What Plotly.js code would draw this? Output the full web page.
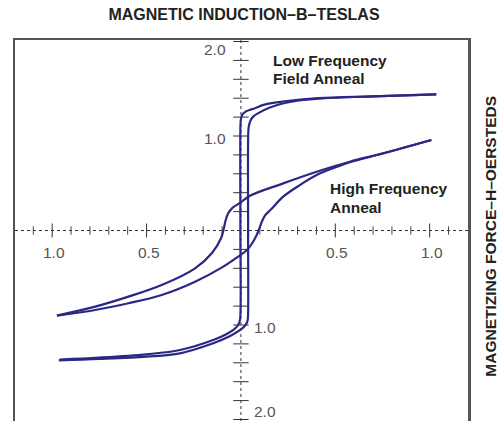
<!DOCTYPE html>
<html>
<head>
<meta charset="utf-8">
<script src="https://cdn.plot.ly/plotly-3.0.1.min.js"></script>
<style>html,body{margin:0;padding:0;background:#fff;}#chart{width:499px;height:421px;}</style>
</head>
<body>
<div id="chart"></div>
<script>
// Low frequency field anneal loop (square loop)
const lfDescH = [1.035, 0.70, 0.41, 0.22, 0.12, 0.074, 0.045, 0.025, 0.011, 0.003, -0.001, -0.003, -0.003, -0.004, -0.009, -0.02, -0.04, -0.08, -0.147, -0.323, -0.50, -0.75, -0.96];
const lfDescB = [1.44, 1.42, 1.40, 1.363, 1.33, 1.294, 1.276, 1.258, 1.235, 1.205, 1.165, 1.07, 0.0, -0.93, -0.975, -1.015, -1.052, -1.10, -1.159, -1.265, -1.31, -1.345, -1.365];
const lfAscH = [-0.965, -0.75, -0.50, -0.323, -0.147, -0.06, -0.01, 0.018, 0.031, 0.036, 0.038, 0.038, 0.039, 0.042, 0.05, 0.065, 0.09, 0.15, 0.275, 0.41, 0.70, 1.035];
const lfAscB = [-1.375, -1.36, -1.335, -1.30, -1.194, -1.12, -1.06, -1.015, -0.98, -0.945, -0.88, 0.0, 1.04, 1.105, 1.16, 1.205, 1.24, 1.30, 1.365, 1.395, 1.42, 1.44];

// High frequency anneal loop (sheared loop)
const hfDescH = [1.009, 0.753, 0.577, 0.401, 0.224, 0.048, -0.005, -0.045, -0.068, -0.082, -0.092, -0.105, -0.152, -0.243, -0.42, -0.596, -0.772, -0.975];
const hfDescB = [0.958, 0.817, 0.728, 0.622, 0.499, 0.368, 0.292, 0.24, 0.18, 0.10, 0.01, -0.08, -0.235, -0.40, -0.577, -0.70, -0.806, -0.90];
const hfAscH = [-0.975, -0.772, -0.596, -0.42, -0.243, -0.10, -0.032, 0.03, 0.07, 0.094, 0.11, 0.128, 0.16, 0.224, 0.312, 0.401, 0.488, 0.577, 0.753, 1.009];
const hfAscB = [-0.90, -0.841, -0.77, -0.683, -0.542, -0.39, -0.30, -0.21, -0.10, 0.0, 0.09, 0.16, 0.225, 0.358, 0.481, 0.587, 0.658, 0.722, 0.815, 0.958];

// Axis ticks and labels
const xTicksMinor = [-1.1, -0.9, -0.8, -0.7, -0.6, -0.4, -0.3, -0.2, -0.1, 0.1, 0.2, 0.3, 0.4, 0.6, 0.7, 0.8, 0.9, 1.1];
const xTicksMajor = [-1.0, -0.5, 0.5, 1.0];
const xTickLabels = ["1.0", "0.5", "0.5", "1.0"];
const yTicks = [-2.0, -1.8, -1.6, -1.4, -1.2, -1.0, -0.8, -0.6, -0.4, -0.2, 0.2, 0.4, 0.6, 0.8, 1.0, 1.2, 1.4, 1.6, 1.8, 2.0];
const yLabelValsUpper = [2.0, 1.0];
const yLabelValsLower = [-1.0, -2.0];
const yLabelTextUpper = ["2.0", "1.0"];
const yLabelTextLower = ["1.0", "2.0"];

const xRange = [-1.197, 1.203];
const yRange = [-2.016, 2.016];

const curveColor = '#2b2884';
const axisColor = '#333';

const traces = [
  {x: xRange, y: [0, 0], mode: 'lines', line: {color: axisColor, width: 1, dash: 'dot'}},
  {x: [0, 0], y: yRange, mode: 'lines', line: {color: axisColor, width: 1, dash: 'dot'}},
  {x: xTicksMinor, y: xTicksMinor.map(() => 0), mode: 'markers',
   marker: {symbol: 'line-ns-open', size: 6, color: '#444', line: {color: '#444', width: 1}}},
  {x: xTicksMajor, y: xTicksMajor.map(() => 0), mode: 'markers',
   marker: {symbol: 'line-ns-open', size: 10, color: '#333', line: {color: '#333', width: 1}}},
  {x: yTicks.map(() => 0), y: yTicks, mode: 'markers',
   marker: {symbol: 'line-ew-open', size: 11, color: '#333', line: {color: '#333', width: 1}}},
  {x: lfDescH, y: lfDescB, mode: 'lines', line: {color: curveColor, width: 2.2, shape: 'spline', smoothing: 1}},
  {x: lfAscH, y: lfAscB, mode: 'lines', line: {color: curveColor, width: 2.2, shape: 'spline', smoothing: 1}},
  {x: hfDescH, y: hfDescB, mode: 'lines', line: {color: curveColor, width: 2.2, shape: 'spline', smoothing: 1}},
  {x: hfAscH, y: hfAscB, mode: 'lines', line: {color: curveColor, width: 2.2, shape: 'spline', smoothing: 1}}
];

const tickFont = {family: 'Liberation Sans, Arial, sans-serif', size: 15.5, color: '#555'};
const boldFont = {family: 'Liberation Sans, Arial, sans-serif', size: 15.5, color: '#222', weight: 'bold'};
const titleFont = {family: 'Liberation Sans, Arial, sans-serif', size: 16, color: '#222', weight: 'bold'};

const annotations = [];
xTicksMajor.forEach((v, i) => annotations.push({
  x: v, y: 0, xref: 'x', yref: 'y', text: xTickLabels[i], showarrow: false,
  xanchor: 'center', yanchor: 'middle', xshift: 2, yshift: -22, font: tickFont
}));
yLabelValsUpper.forEach((v, i) => annotations.push({
  x: 0, y: v, xref: 'x', yref: 'y', text: yLabelTextUpper[i], showarrow: false,
  xanchor: 'right', yanchor: 'middle', xshift: -13, yshift: i === 0 ? -8 : -2, font: tickFont
}));
yLabelValsLower.forEach((v, i) => annotations.push({
  x: 0, y: v, xref: 'x', yref: 'y', text: yLabelTextLower[i], showarrow: false,
  xanchor: 'left', yanchor: 'middle', xshift: 11, yshift: i === 0 ? -3 : 8, font: tickFont
}));

// pixel -> paper helpers for text placement
const L = 15, T = 40, W = 453, Hh = 381;
const px = p => (p - L) / W;
const py = p => (T + Hh - p) / Hh;

annotations.push(
  {x: px(271), y: py(60), xref: 'paper', yref: 'paper', text: 'Low Frequency', showarrow: false, xanchor: 'left', yanchor: 'middle', font: boldFont},
  {x: px(271), y: py(78.5), xref: 'paper', yref: 'paper', text: 'Field Anneal', showarrow: false, xanchor: 'left', yanchor: 'middle', font: boldFont},
  {x: px(328), y: py(188.5), xref: 'paper', yref: 'paper', text: 'High Frequency', showarrow: false, xanchor: 'left', yanchor: 'middle', font: boldFont},
  {x: px(328), y: py(207.5), xref: 'paper', yref: 'paper', text: 'Anneal', showarrow: false, xanchor: 'left', yanchor: 'middle', font: boldFont},
  {x: px(491), y: py(236.7), xref: 'paper', yref: 'paper', text: 'MAGNETIZING FORCE–H–OERSTEDS', showarrow: false, textangle: -90, xanchor: 'center', yanchor: 'middle', font: boldFont}
);

const layout = {
  width: 499, height: 421,
  margin: {l: L, r: 499 - L - W, t: T, b: 0, pad: 0},
  paper_bgcolor: '#fff', plot_bgcolor: '#fff',
  showlegend: false,
  title: {text: 'MAGNETIC INDUCTION–B–TESLAS', font: titleFont, x: 244 / 499, xref: 'container', xanchor: 'center', y: 1 - 14 / 421, yref: 'container', yanchor: 'middle'},
  xaxis: {range: xRange, showgrid: false, zeroline: false, showticklabels: false, ticks: '', showline: true, mirror: true, linecolor: '#555', linewidth: 2.5, fixedrange: true},
  yaxis: {range: yRange, showgrid: false, zeroline: false, showticklabels: false, ticks: '', showline: true, mirror: true, linecolor: '#555', linewidth: 2.5, fixedrange: true},
  annotations: annotations
};

Plotly.newPlot('chart', traces, layout, {displayModeBar: false, staticPlot: true});
</script>
</body>
</html>
